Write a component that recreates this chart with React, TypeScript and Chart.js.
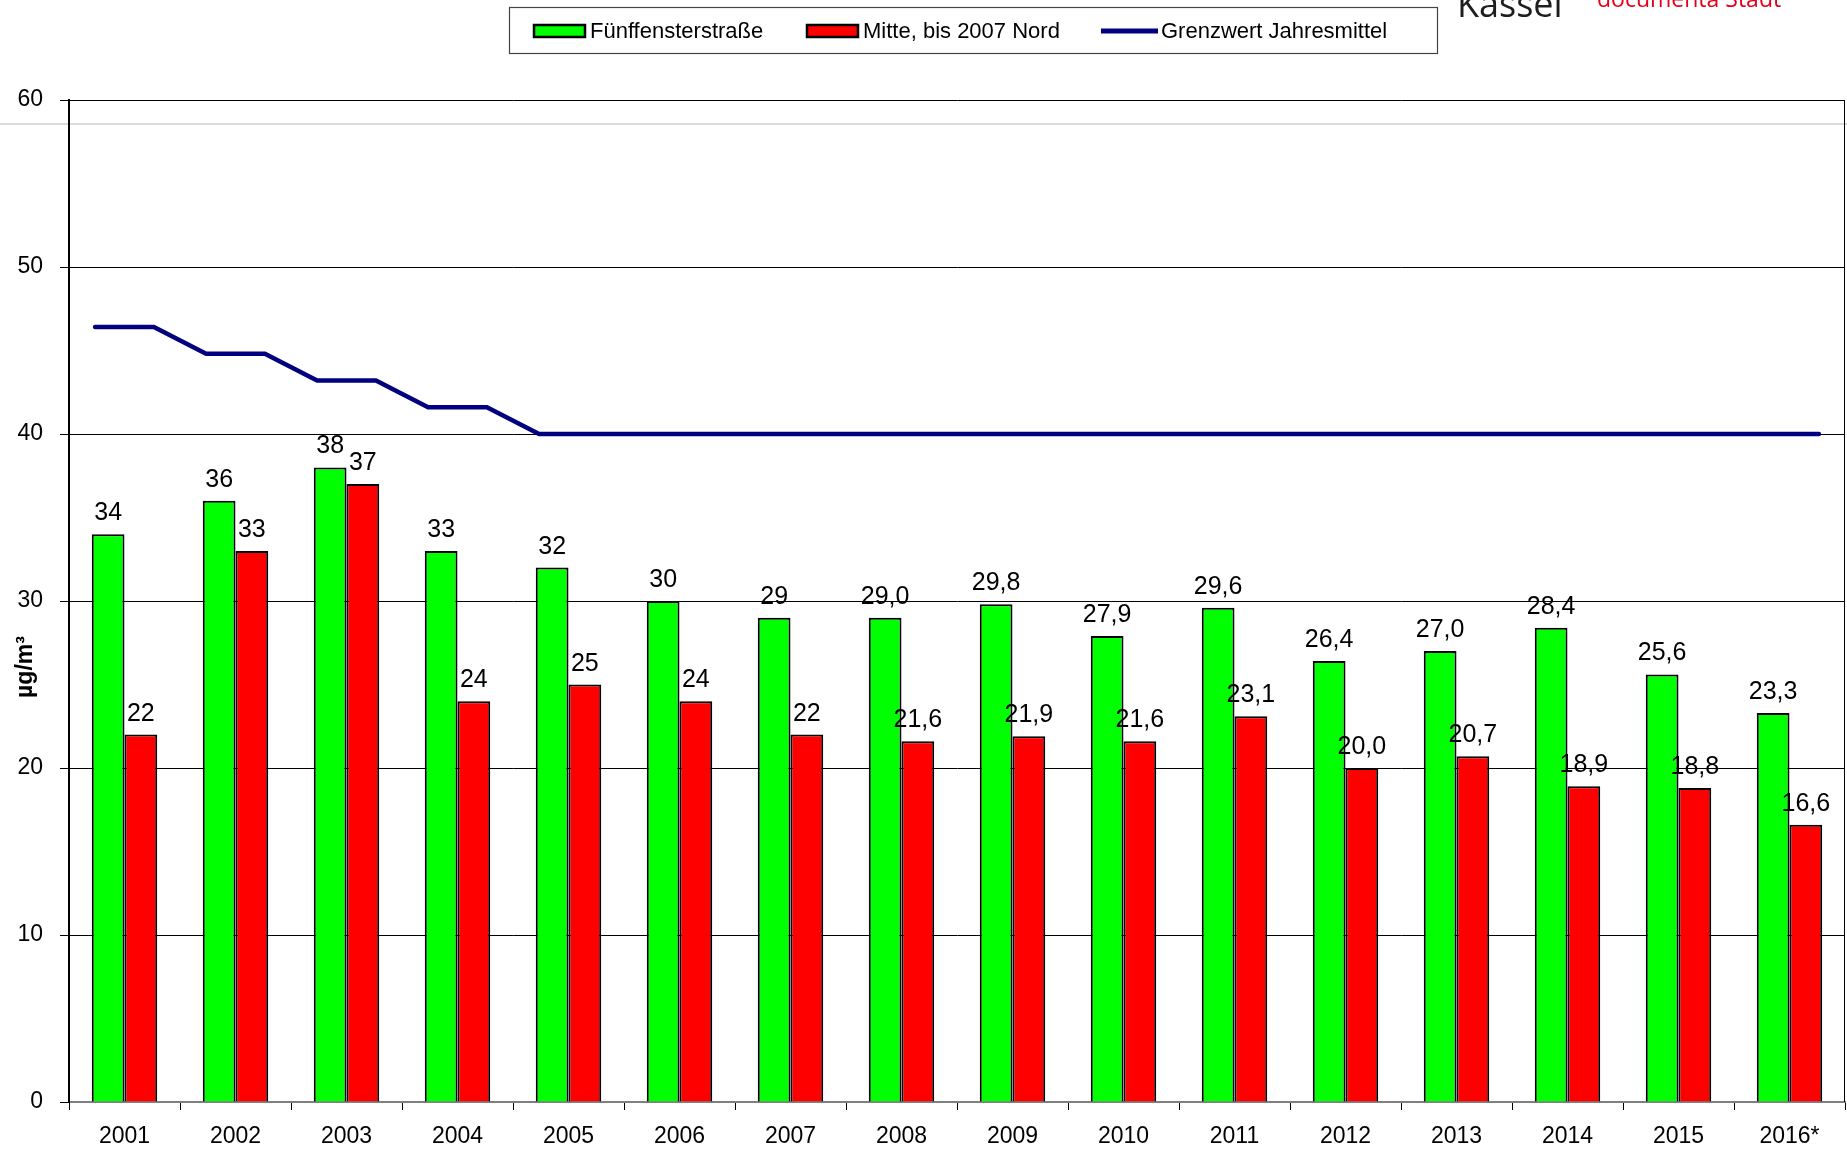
import React, { useEffect, useRef } from 'react';
import { Chart, registerables } from 'chart.js';

Chart.register(...registerables);

const years = ['2001', '2002', '2003', '2004', '2005', '2006', '2007', '2008', '2009', '2010', '2011', '2012', '2013', '2014', '2015', '2016*'];
const fuenffensterstrasse = [34, 36, 38, 33, 32, 30, 29, 29.0, 29.8, 27.9, 29.6, 26.4, 27.0, 28.4, 25.6, 23.3];
const mitteNord = [22, 33, 37, 24, 25, 24, 22, 21.6, 21.9, 21.6, 23.1, 20.0, 20.7, 18.9, 18.8, 16.6];
const grenzwert = [46.4, 44.8, 43.2, 41.6, 40, 40, 40, 40, 40, 40, 40, 40, 40, 40, 40, 40];
const labelDecimals = [0, 0, 0, 0, 0, 0, 0, 1, 1, 1, 1, 1, 1, 1, 1, 1];
const yTicks = [0, 10, 20, 30, 40, 50, 60];
const seriesNames = ['Fünffensterstraße', 'Mitte, bis 2007 Nord', 'Grenzwert Jahresmittel'];
const yTitle = 'µg/m³';

const FONT = "'Liberation Sans', Arial, sans-serif";
const GREEN = '#00FF00';
const RED = '#FF0000';
const NAVY = '#000080';

export default function App() {
  const ref = useRef<HTMLCanvasElement | null>(null);

  useEffect(() => {
    document.body.style.margin = '0';
    const canvas = ref.current;
    if (!canvas) return;

    // the limit line is flat across each year's bar group, stepping between years
    const halfStep = 0.265;
    const linePoints = grenzwert.flatMap((v, i) => [
      { x: i - halfStep, y: v },
      { x: i + halfStep, y: v },
    ]);

    const decorPlugin = {
      id: 'decor',
      beforeDraw(chart: any) {
        const c = chart.ctx;
        c.save();
        c.fillStyle = '#fff';
        c.fillRect(0, 0, chart.width, chart.height);
        c.strokeStyle = '#cfcfcf';
        c.lineWidth = 1.5;
        c.beginPath();
        c.moveTo(0, 124);
        c.lineTo(chart.width, 124);
        c.stroke();
        c.restore();
      },
      afterDatasetsDraw(chart: any) {
        const c = chart.ctx;
        c.save();
        c.font = `25px ${FONT}`;
        c.fillStyle = '#000';
        c.textAlign = 'center';
        c.textBaseline = 'alphabetic';
        [0, 1].forEach((di) => {
          const meta = chart.getDatasetMeta(di);
          const vals = chart.data.datasets[di].data as number[];
          meta.data.forEach((el: any, i: number) => {
            const txt = vals[i].toFixed(labelDecimals[i]).replace('.', ',');
            c.fillText(txt, el.x, el.y - 14);
          });
        });
        c.restore();
      },
      afterDraw(chart: any) {
        const c = chart.ctx;
        const a = chart.chartArea;
        c.save();
        // right frame
        c.strokeStyle = '#000';
        c.lineWidth = 1;
        c.beginPath();
        c.moveTo(Math.round(a.right) - 0.5, a.top);
        c.lineTo(Math.round(a.right) - 0.5, a.bottom);
        c.stroke();

        // y title
        c.save();
        c.translate(26, 667);
        c.rotate(-Math.PI / 2);
        c.font = `bold 23px ${FONT}`;
        c.fillStyle = '#000';
        c.textAlign = 'center';
        c.textBaseline = 'middle';
        c.fillText(yTitle, 0, 0);
        c.restore();

        // legend box
        c.strokeStyle = '#444';
        c.lineWidth = 1.2;
        c.strokeRect(509.5, 7.5, 928, 46);
        c.font = `22px ${FONT}`;
        c.textBaseline = 'middle';
        c.textAlign = 'left';
        const cy = 31;
        const itemX = [534, 807, 1101];
        const swatches = [GREEN, RED, NAVY];
        seriesNames.forEach((name, i) => {
          const x = itemX[i];
          if (i < 2) {
            c.fillStyle = swatches[i];
            c.fillRect(x, cy - 6, 51, 12);
            c.strokeStyle = '#000';
            c.lineWidth = 2.5;
            c.strokeRect(x, cy - 6, 51, 12);
          } else {
            c.strokeStyle = NAVY;
            c.lineWidth = 5;
            c.beginPath();
            c.moveTo(x, cy);
            c.lineTo(x + 57, cy);
            c.stroke();
          }
          c.fillStyle = '#000';
          c.fillText(name, x + (i < 2 ? 56 : 60), cy + 1);
        });

        // logo remnants
        c.textBaseline = 'alphabetic';
        c.fillStyle = '#1e1e1e';
        c.font = `36px 'Open Sans', ${FONT}`;
        c.fillText('Kassel', 1457, 17);
        c.fillStyle = '#e2001a';
        c.font = `23px 'Open Sans', ${FONT}`;
        c.fillText('documenta Stadt', 1597, 7);
        c.restore();
      },
    };

    const chart = new Chart(canvas, {
      type: 'bar',
      data: {
        labels: years,
        datasets: [
          {
            label: seriesNames[0],
            data: fuenffensterstrasse,
            backgroundColor: GREEN,
            borderColor: '#000',
            borderWidth: 2,
            categoryPercentage: 0.59,
            barPercentage: 1.0,
          } as any,
          {
            label: seriesNames[1],
            data: mitteNord,
            backgroundColor: RED,
            borderColor: '#000',
            borderWidth: 2,
            categoryPercentage: 0.59,
            barPercentage: 1.0,
          } as any,
          {
            type: 'line',
            label: seriesNames[2],
            data: linePoints,
            parsing: false,
            borderColor: NAVY,
            borderWidth: 4.5,
            pointRadius: 0,
            borderCapStyle: 'round',
            borderJoinStyle: 'miter',
            tension: 0,
          } as any,
        ],
      },
      options: {
        animation: false,
        responsive: false,
        devicePixelRatio: 1,
        layout: { padding: { top: 100, right: 2, left: 0, bottom: 0 } },
        plugins: {
          legend: { display: false },
          tooltip: { enabled: false },
          title: { display: false },
        },
        scales: {
          x: {
            type: 'category',
            offset: true,
            grid: { display: true, drawOnChartArea: false, drawTicks: true, tickLength: 8, color: '#000', offset: true },
            border: { display: true, color: '#808080', width: 2 },
            ticks: { color: '#000', font: { family: FONT, size: 23 }, padding: 13, maxRotation: 0, autoSkip: false },
            afterFit: (s: any) => { s.height = 48; },
          },
          y: {
            type: 'linear',
            min: 0,
            max: 60,
            afterBuildTicks: (s: any) => { s.ticks = yTicks.map((v) => ({ value: v })); },
            grid: {
              color: (ctx: any) => (ctx.tick && ctx.tick.value === 0 ? 'rgba(0,0,0,0)' : '#000'),
              tickColor: '#000',
              tickLength: 9,
              lineWidth: 1,
            },
            border: { display: true, color: '#000', width: 2 },
            ticks: { color: '#000', font: { family: FONT, size: 23 }, padding: 17 },
            afterFit: (s: any) => { s.width = 69; },
          },
        },
      } as any,
      plugins: [decorPlugin],
    });

    return () => chart.destroy();
  }, []);

  return (
    <div style={{ width: 1847, height: 1150, position: 'relative' }}>
      <canvas ref={ref} width={1847} height={1150} style={{ display: 'block' }} />
    </div>
  );
}
